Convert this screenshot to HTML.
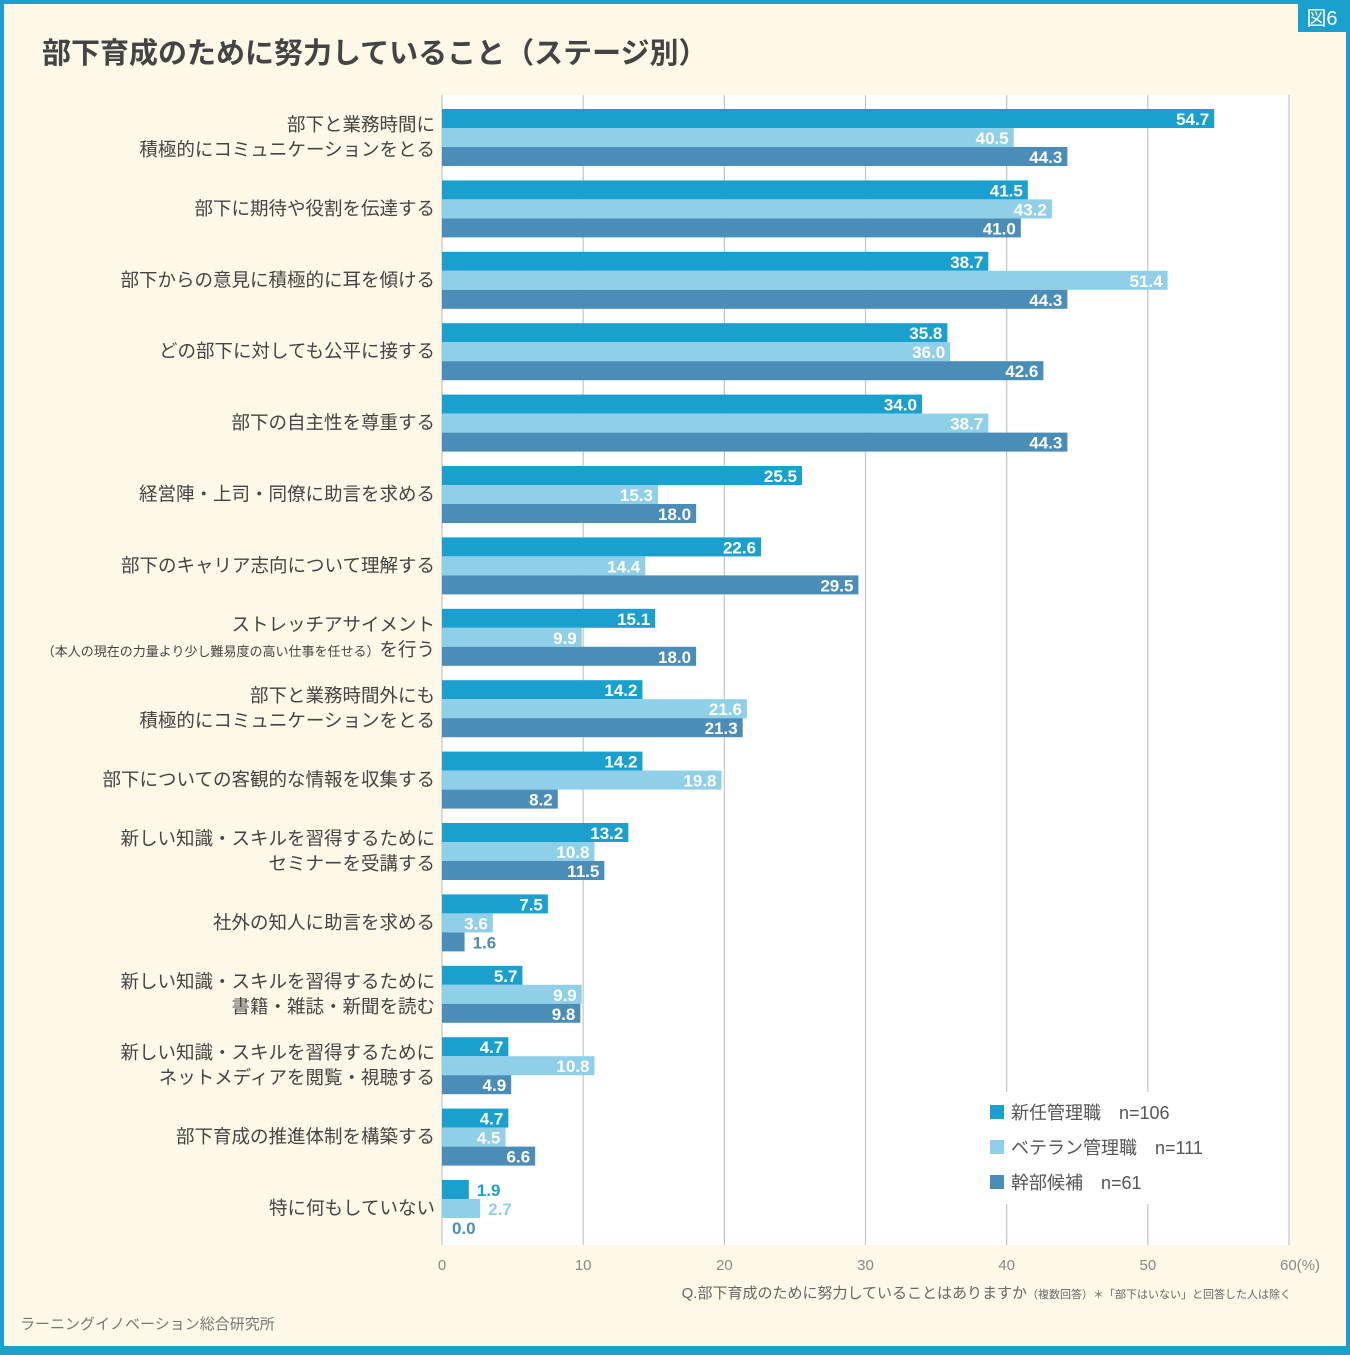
<!DOCTYPE html>
<html><head><meta charset="utf-8">
<style>
html,body{margin:0;padding:0;}
body{width:1350px;height:1350px;overflow:hidden;background:#1aa0cf;font-family:"Liberation Sans","Noto Sans CJK JP",sans-serif;}
svg text{font-family:"Liberation Sans","Noto Sans CJK JP",sans-serif;}
</style></head>
<body>
<svg width="1350" height="1350" viewBox="0 0 1350 1350">
<rect x="0" y="0" width="1350" height="1350" fill="#1aa0cf"/>
<rect x="4" y="4" width="1342" height="1342" fill="#fdf8e8"/>
<rect x="1298" y="4" width="48" height="28" fill="#1aa0cf"/>
<text x="1322" y="25" font-size="20" fill="#fff" text-anchor="middle">図6</text>
<text x="42" y="63" font-size="29" font-weight="bold" fill="#444">部下育成のために努力していること（ステージ別）</text>
<rect x="442" y="95" width="848" height="1150" fill="#fff"/>
<g id="grid"></g>
<g id="bars"></g>
<g id="labels"></g>
<g id="ticks"></g>
<rect x="975" y="1092" width="260" height="112" fill="#fff"/>
<g>
<rect x="990" y="1105" width="14" height="14" fill="#1aa0cf"/>
<text x="1011" y="1119" font-size="18" fill="#555">新任管理職　n=106</text>
<rect x="990" y="1140" width="14" height="14" fill="#8fd0e8"/>
<text x="1011" y="1154" font-size="18" fill="#555">ベテラン管理職　n=111</text>
<rect x="990" y="1175" width="14" height="14" fill="#4a8db8"/>
<text x="1011" y="1189" font-size="18" fill="#555">幹部候補　n=61</text>
</g>
<text x="1291" y="1298" font-size="15" fill="#666" text-anchor="end">Q.部下育成のために努力していることはありますか<tspan font-size="11">（複数回答）＊「部下はいない」と回答した人は除く</tspan></text>
<text x="20" y="1329" font-size="15" fill="#777">ラーニングイノベーション総合研究所</text>
</svg>
<script>
const categories=[["部下と業務時間に","積極的にコミュニケーションをとる"],["部下に期待や役割を伝達する"],["部下からの意見に積極的に耳を傾ける"],["どの部下に対しても公平に接する"],["部下の自主性を尊重する"],["経営陣・上司・同僚に助言を求める"],["部下のキャリア志向について理解する"],["ストレッチアサイメント","SMALL"],["部下と業務時間外にも","積極的にコミュニケーションをとる"],["部下についての客観的な情報を収集する"],["新しい知識・スキルを習得するために","セミナーを受講する"],["社外の知人に助言を求める"],["新しい知識・スキルを習得するために","書籍・雑誌・新聞を読む"],["新しい知識・スキルを習得するために","ネットメディアを閲覧・視聴する"],["部下育成の推進体制を構築する"],["特に何もしていない"]];
const newManager=[54.7,41.5,38.7,35.8,34.0,25.5,22.6,15.1,14.2,14.2,13.2,7.5,5.7,4.7,4.7,1.9];
const veteran=[40.5,43.2,51.4,36.0,38.7,15.3,14.4,9.9,21.6,19.8,10.8,3.6,9.9,10.8,4.5,2.7];
const candidate=[44.3,41.0,44.3,42.6,44.3,18.0,29.5,18.0,21.3,8.2,11.5,1.6,9.8,4.9,6.6,0.0];
const xTicks=[0,10,20,30,40,50,60];
const xTickLabels=["0","10","20","30","40","50","60(%)"];
const NS="http://www.w3.org/2000/svg";
const x0=442,x1=1289,xmax=60;
const xs=v=>x0+(x1-x0)*v/xmax;
const gy=i=>109+i*71.4;
const bh=19;
function mk(tag,attrs,parent){const e=document.createElementNS(NS,tag);for(const k in attrs)e.setAttribute(k,attrs[k]);document.getElementById(parent).appendChild(e);return e;}
xTicks.forEach((t,i)=>{
 if(i>0){const l=mk('line',{x1:xs(t),x2:xs(t),y1:95,y2:1245,stroke:'#c8c8c8','stroke-width':1.3},'grid');
 
 }
 const tx=mk('text',{x:xs(t),y:1270,'font-size':15,fill:'#888','text-anchor':i==6?'start':'middle'},'ticks');
 if(i==6)tx.setAttribute('x',xs(t)-9);
 tx.textContent=xTickLabels[i];
 
 
});
mk('line',{x1:x0,x2:x0,y1:95,y2:1245,stroke:'#c8c8c8','stroke-width':1.3},'grid');
const series=[[newManager,'#1aa0cf'],[veteran,'#8fd0e8'],[candidate,'#4a8db8']];
categories.forEach((c,i)=>{
 series.forEach(([arr,col],s)=>{
  const v=arr[i],y=gy(i)+s*bh,w=xs(v)-x0;
  const r=mk('rect',{x:x0,y:y,width:w,height:bh,fill:col},'bars');
  
  
  const inside=w>=45;
  const t=mk('text',{x:inside?xs(v)-5:xs(v)+8,y:y+bh-3,'font-size':17,'font-weight':'bold',fill:inside?'#fff':col,'text-anchor':inside?'end':'start'},'labels');
  if(!inside&&v===0){t.setAttribute('x',x0+10);}
  t.textContent=v.toFixed(1);
  
  
 });
 const cy=gy(i)+28.5;
 const lines=c.length;
 c.forEach((ln,j)=>{
  const y=cy+6+(j-(lines-1)/2)*25;
  const t=mk('text',{x:435,y:y,'font-size':18.5,fill:'#444','text-anchor':'end'},'labels');
  if(ln==='SMALL'){
   const a=document.createElementNS(NS,'tspan');a.setAttribute('font-size','13');a.textContent='（本人の現在の力量より少し難易度の高い仕事を任せる）';t.appendChild(a);
   const b=document.createElementNS(NS,'tspan');b.textContent='を行う';t.appendChild(b);
  } else t.textContent=ln;
  
  
 });
});
</script>
</body></html>
